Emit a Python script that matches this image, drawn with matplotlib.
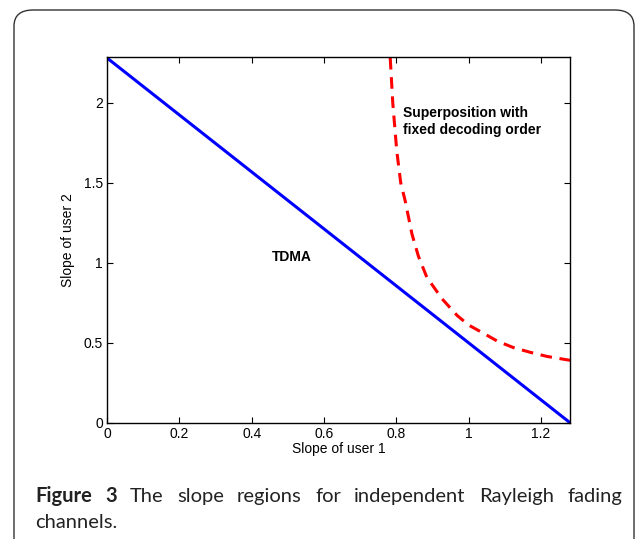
import numpy as np
import matplotlib
matplotlib.use('Agg')
import matplotlib.pyplot as plt
from matplotlib.patches import FancyBboxPatch

# slope region boundaries
tdma_x = [0.0, 1.28]
tdma_y = [2.28, 0.0]
sup_x = [0.783, 0.790, 0.801, 0.812, 0.824, 0.843, 0.861, 0.884, 0.926,
         0.968, 1.000, 1.040, 1.079, 1.123, 1.170, 1.217, 1.280]
sup_y = [2.28, 2.00, 1.70, 1.50, 1.39, 1.18, 1.04, 0.91, 0.775,
         0.67, 0.61, 0.56, 0.51, 0.47, 0.44, 0.414, 0.39]
xticks = [0, 0.2, 0.4, 0.6, 0.8, 1, 1.2]
xticklabels = ['0', '0.2', '0.4', '0.6', '0.8', '1', '1.2']
yticks = [0, 0.5, 1, 1.5, 2]
yticklabels = ['0', '0.5', '1', '1.5', '2']
caption_bold = 'Figure 3'
caption_line1 = 'The slope regions for independent Rayleigh fading'
caption_line2 = 'channels.'

plt.rcParams['font.family'] = ['Liberation Sans', 'DejaVu Sans']
fig = plt.figure(figsize=(6.36, 5.39), dpi=100)

# rounded frame around the figure (open at the bottom)
frame = FancyBboxPatch((14 / 636, -0.1), (634 - 14) / 636, (539 - 10) / 539 + 0.1,
                       boxstyle='round,pad=0,rounding_size=0.03',
                       transform=fig.transFigure, fill=False,
                       edgecolor='#333333', linewidth=1.0)
fig.patches.append(frame)

ax = fig.add_axes([107 / 636, (539 - 422.7) / 539, (570 - 107) / 636, (422.7 - 57.3) / 539])
ax.plot(tdma_x, tdma_y, color='#0000ff', linewidth=2.2)
ax.plot(sup_x, sup_y, color='#ff0000', linewidth=2.2, linestyle=(0, (3.8, 2.5)))
ax.set_xlim(0, 1.28)
ax.set_ylim(0, 2.284)
ax.set_xticks(xticks)
ax.set_xticklabels(xticklabels)
ax.set_yticks(yticks)
ax.set_yticklabels(yticklabels)
ax.tick_params(direction='in', top=True, right=True, length=4, width=0.8, labelsize=10, pad=3)
for s in ax.spines.values():
    s.set_linewidth(1.0)
ax.set_xlabel('Slope of user 1', fontsize=10, labelpad=1)
ax.set_ylabel('Slope of user 2', fontsize=10, labelpad=6)

ax.text(0.456, 1.036, 'TDMA', fontsize=10, fontweight='bold', ha='left', va='center')
ax.text(0.818, 1.885, 'Superposition with\nfixed decoding order', fontsize=10,
        fontweight='bold', ha='left', va='center', linespacing=1.25)

# caption, justified on the first line
cap_font = ['Lato', 'DejaVu Sans']
cap_size = 14.5
renderer = fig.canvas.get_renderer()
x_left, x_right = 35, 622
y1, y2 = 539 - 502, 539 - 528
words = [(w, 'bold') for w in caption_bold.split()] + [(w, 'normal') for w in caption_line1.split()]
items = []
total = 0
for w, weight in words:
    t = fig.text(0, y1 / 539, w, fontsize=cap_size, fontweight=weight, family=cap_font,
                 va='baseline', ha='left', color='#222222')
    wd = t.get_window_extent(renderer).width
    items.append((t, wd))
    total += wd
gap = (x_right - x_left - total) / (len(items) - 1)
x = x_left
for t, wd in items:
    t.set_x(x / 636)
    x += wd + gap
fig.text(x_left / 636, y2 / 539, caption_line2, fontsize=cap_size, family=cap_font,
         va='baseline', ha='left', color='#222222')

fig.savefig('out.png', dpi=100)
